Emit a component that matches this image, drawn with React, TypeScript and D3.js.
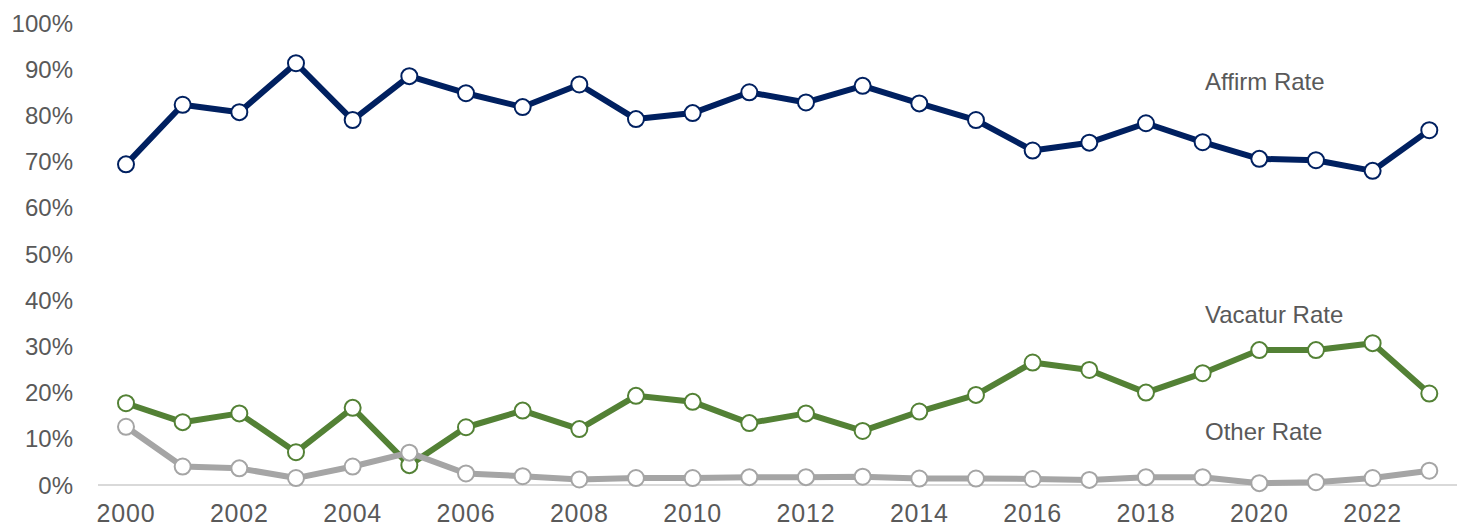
import React, { useEffect, useRef } from "react";
import * as d3 from "d3";

// years on the x axis
const years: number[] = d3.range(2000, 2024);

// rates in percent
const affirmRate: number[] = [
  69.4, 82.3, 80.7, 91.3, 79.0, 88.5, 84.8, 81.8, 86.7, 79.2, 80.5, 85.0,
  82.8, 86.4, 82.6, 79.0, 72.4, 74.1, 78.3, 74.2, 70.6, 70.3, 68.0, 76.8,
];
const vacaturRate: number[] = [
  17.7, 13.6, 15.5, 7.1, 16.7, 4.3, 12.5, 16.1, 12.1, 19.3, 18.0, 13.4,
  15.5, 11.7, 15.9, 19.5, 26.5, 24.9, 20.0, 24.2, 29.2, 29.2, 30.7, 19.8,
];
const otherRate: number[] = [
  12.6, 4.0, 3.6, 1.5, 4.0, 7.0, 2.5, 1.9, 1.2, 1.5, 1.5, 1.7,
  1.7, 1.8, 1.4, 1.4, 1.3, 1.1, 1.7, 1.7, 0.4, 0.6, 1.5, 3.1,
];

const yTicks: number[] = [0, 10, 20, 30, 40, 50, 60, 70, 80, 90, 100];
const xTicks: number[] = d3.range(2000, 2023, 2);

const seriesList = [
  { name: "Affirm Rate", values: affirmRate, color: "#002060", labelY: 90 },
  { name: "Vacatur Rate", values: vacaturRate, color: "#538135", labelY: 323 },
  { name: "Other Rate", values: otherRate, color: "#a5a5a5", labelY: 440 },
];

const width = 1457;
const height = 527;
const textColor = "#595959";
const fontFamily = "'Liberation Sans', Arial, sans-serif";

const App = () => {
  const svgRef = useRef<SVGSVGElement>(null);

  useEffect(() => {
    document.body.style.margin = "0";
    const svg = d3.select(svgRef.current);
    svg.selectAll("*").remove();

    const x = d3.scaleLinear().domain([2000, 2023]).range([126, 1429.3]);
    const y = d3.scaleLinear().domain([0, 100]).range([485, 23]);

    // y labels
    svg.append("g")
      .selectAll("text")
      .data(yTicks)
      .enter()
      .append("text")
      .attr("x", 73)
      .attr("y", (d) => y(d))
      .attr("dy", "0.36em")
      .attr("text-anchor", "end")
      .attr("fill", textColor)
      .attr("font-family", fontFamily)
      .attr("font-size", 24)
      .text((d) => `${d}%`);

    // baseline
    svg.append("line")
      .attr("x1", 98)
      .attr("x2", width)
      .attr("y1", y(0))
      .attr("y2", y(0))
      .attr("stroke", "#d9d9d9")
      .attr("stroke-width", 2);

    // x labels
    svg.append("g")
      .selectAll("text")
      .data(xTicks)
      .enter()
      .append("text")
      .attr("x", (d) => x(d))
      .attr("y", 522)
      .attr("text-anchor", "middle")
      .attr("fill", textColor)
      .attr("font-family", fontFamily)
      .attr("font-size", 25)
      .attr("letter-spacing", 0.8)
      .text((d) => d);

    const line = d3
      .line<number>()
      .x((d, i) => x(years[i]))
      .y((d) => y(d));

    seriesList.forEach((s) => {
      const g = svg.append("g");
      g.append("path")
        .datum(s.values)
        .attr("d", line)
        .attr("fill", "none")
        .attr("stroke", s.color)
        .attr("stroke-width", 6)
        .attr("stroke-linejoin", "round");

      g.selectAll("circle")
        .data(s.values)
        .enter()
        .append("circle")
        .attr("cx", (d, i) => x(years[i]))
        .attr("cy", (d) => y(d))
        .attr("r", 8)
        .attr("fill", "#ffffff")
        .attr("stroke", s.color)
        .attr("stroke-width", 2);

      svg.append("text")
        .attr("x", 1205)
        .attr("y", s.labelY)
        .attr("fill", textColor)
        .attr("font-family", fontFamily)
        .attr("font-size", 24)
        .text(s.name);
    });
  }, []);

  return <svg ref={svgRef} width={width} height={height} style={{ display: "block" }}></svg>;
};

export default App;
